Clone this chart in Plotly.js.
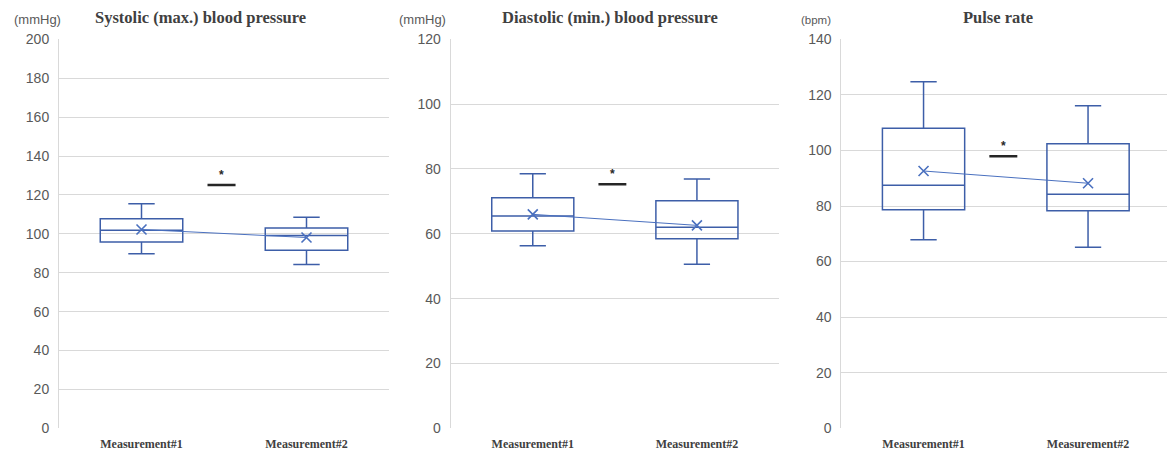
<!DOCTYPE html>
<html>
<head>
<meta charset="utf-8">
<script src="https://cdn.plot.ly/plotly-3.0.1.min.js"></script>
<style>html,body{margin:0;padding:0;background:#fff;}#chart{width:1167px;height:452px;}</style>
</head>
<body>
<div id="chart"></div>
<script>
// ---- data ----
const categories = ["Measurement#1", "Measurement#2"];
const panelTitles = ["Systolic (max.) blood pressure", "Diastolic (min.) blood pressure", "Pulse rate"];
const unitLabels = ["(mmHg)", "(mmHg)", "(bpm)"];
const yMax = [200, 120, 140];
const yStep = [20, 20, 20];

const sysLower = [89.8, 84.2];
const sysQ1 = [95.8, 91.5];
const sysMedian = [101.8, 99.1];
const sysQ3 = [107.8, 103.0];
const sysUpper = [115.5, 108.5];
const sysMean = [102.2, 98.1];

const diaLower = [56.3, 50.6];
const diaQ1 = [60.9, 58.5];
const diaMedian = [65.5, 62.0];
const diaQ3 = [71.1, 70.2];
const diaUpper = [78.5, 76.9];
const diaMean = [66.0, 62.6];

const pulLower = [67.9, 65.2];
const pulQ1 = [78.7, 78.3];
const pulMedian = [87.5, 84.2];
const pulQ3 = [108.0, 102.4];
const pulUpper = [124.7, 116.1];
const pulMean = [92.6, 88.2];

const sigLevel = [125.1, 75.3, 97.9];
const sigMark = "*";

// ---- layout helpers ----
const W = 1167, H = 452;
const xDomPx = [[59, 389], [450.7, 779], [841.3, 1167]];
const xRanges = [[-0.5, 1.5], [-0.5, 1.5], [-0.5, 1.48]];
const yDom = [1 - 428.3 / H, 1 - 39.3 / H];
const titleCx = [200, 610, 998];
const unitCx = [37, 422, 816];

const boxColor = "#3d5ea8";
const meanColor = "#4a70bf";
const gridColor = "#d9d9d9";
const tickColor = "#595959";

const panels = [
  {lo: sysLower, q1: sysQ1, med: sysMedian, q3: sysQ3, hi: sysUpper, mean: sysMean},
  {lo: diaLower, q1: diaQ1, med: diaMedian, q3: diaQ3, hi: diaUpper, mean: diaMean},
  {lo: pulLower, q1: pulQ1, med: pulMedian, q3: pulQ3, hi: pulUpper, mean: pulMean}
];

const xpos = categories.map((c, i) => i);
const traces = [];
const layout = {
  width: W, height: H,
  margin: {l: 0, r: 0, t: 0, b: 0},
  paper_bgcolor: "#ffffff", plot_bgcolor: "#ffffff",
  showlegend: false,
  annotations: [], shapes: []
};

panels.forEach((p, k) => {
  const xa = k === 0 ? "x" : "x" + (k + 1);
  const ya = k === 0 ? "y" : "y" + (k + 1);
  traces.push({
    type: "box", xaxis: xa, yaxis: ya,
    x: xpos, q1: p.q1, median: p.med, q3: p.q3,
    lowerfence: p.lo, upperfence: p.hi,
    width: 0.5, whiskerwidth: 0.32,
    fillcolor: "rgba(255,255,255,0)",
    line: {color: boxColor, width: 1.5},
    hoverinfo: "skip"
  });
  traces.push({
    type: "scatter", mode: "lines+markers", xaxis: xa, yaxis: ya,
    x: xpos, y: p.mean,
    line: {color: meanColor, width: 1},
    marker: {symbol: "x-thin-open", size: 10, line: {color: meanColor, width: 1.6}, color: meanColor},
    hoverinfo: "skip"
  });
  traces.push({
    type: "scatter", mode: "lines", xaxis: xa, yaxis: ya,
    x: [0.4, 0.57], y: [sigLevel[k], sigLevel[k]],
    line: {color: "#262626", width: 2.5},
    hoverinfo: "skip"
  });
  const ticks = [];
  for (let v = 0; v <= yMax[k]; v += yStep[k]) ticks.push(v);
  layout["xaxis" + (k === 0 ? "" : k + 1)] = {
    domain: [xDomPx[k][0] / W, xDomPx[k][1] / W],
    anchor: ya, range: xRanges[k],
    tickvals: xpos, ticktext: categories,
    showgrid: false, zeroline: false, showline: false, ticks: "",
    tickfont: {family: "Liberation Serif", size: 12, color: "#404040", weight: "bold"},
    ticklabelstandoff: 7, fixedrange: true
  };
  layout["yaxis" + (k === 0 ? "" : k + 1)] = {
    domain: yDom, anchor: xa, range: [0, yMax[k]],
    tickvals: ticks, showgrid: true, gridcolor: gridColor, gridwidth: 1,
    zeroline: false, showline: true, linecolor: gridColor, linewidth: 1,
    ticks: "", tickfont: {family: "Liberation Sans", size: 14, color: tickColor},
    ticklabelstandoff: 6, fixedrange: true
  };
  layout.annotations.push({
    xref: xa, yref: ya, x: 0.485, y: sigLevel[k], yshift: 10,
    text: sigMark, showarrow: false,
    font: {family: "Liberation Sans", size: 12, color: "#262626", weight: "bold"}
  });
  layout.annotations.push({
    xref: "paper", yref: "paper", x: titleCx[k] / W, y: 1 - 17 / H,
    xanchor: "center", yanchor: "middle", text: panelTitles[k], showarrow: false,
    font: {family: "Liberation Serif", size: 16.5, color: "#404040", weight: "bold"}
  });
  layout.annotations.push({
    xref: "paper", yref: "paper", x: unitCx[k] / W, y: 1 - 20 / H,
    xanchor: "center", yanchor: "middle", text: unitLabels[k], showarrow: false,
    font: {family: "Liberation Sans", size: k === 2 ? 11.5 : 13, color: tickColor}
  });
});

Plotly.newPlot("chart", traces, layout, {staticPlot: true, displayModeBar: false});
</script>
</body>
</html>
